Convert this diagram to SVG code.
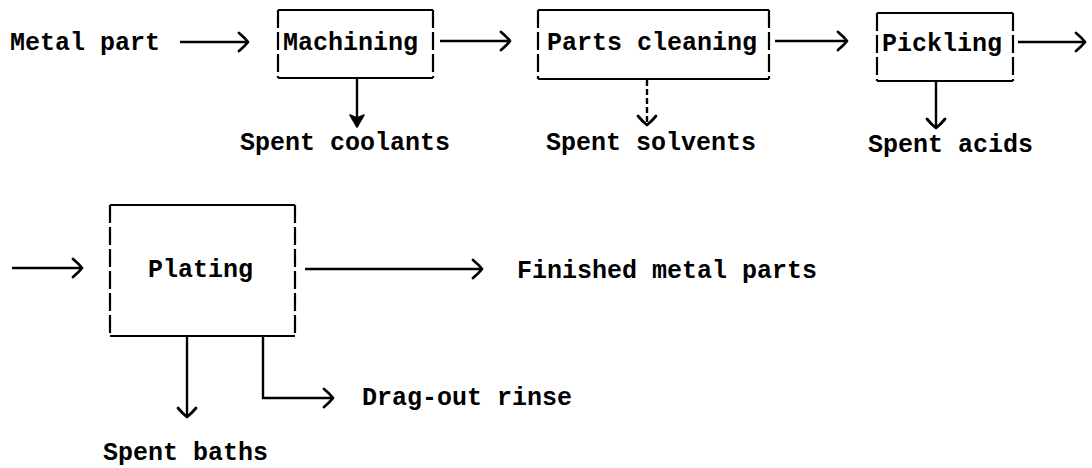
<svg xmlns="http://www.w3.org/2000/svg" width="1092" height="468" viewBox="0 0 1092 468">
  <defs>
    <style>
      .t { font-family: "Liberation Mono", "DejaVu Sans Mono", monospace; font-weight: bold; font-size: 25px; fill: #000; }
      .hz { stroke: #000; stroke-width: 2.2; fill: none; }
      .vt { stroke: #000; stroke-width: 2.2; fill: none; stroke-dasharray: 18 4; }
      .ln { stroke: #000; stroke-width: 2.4; fill: none; }
      .dl { stroke: #000; stroke-width: 2.4; fill: none; stroke-dasharray: 6 3; }
    </style>
    <marker id="open" markerUnits="userSpaceOnUse" markerWidth="16" markerHeight="22" refX="10" refY="9" orient="auto" overflow="visible">
      <path d="M1,0 Q7,5 10,9 Q7,13 1,18" fill="none" stroke="#000" stroke-width="2.8" stroke-linecap="round" stroke-linejoin="round"/>
    </marker>
    <marker id="solid" markerUnits="userSpaceOnUse" markerWidth="16" markerHeight="16" refX="12" refY="7" orient="auto" overflow="visible">
      <path d="M0,0 L12,7 L0,14 L3,7 Z" fill="#000" stroke="#000" stroke-width="1.5" stroke-linejoin="round"/>
    </marker>
  </defs>
  <rect width="1092" height="468" fill="#fff"/>

  <g id="connectors">
    <line class="ln" x1="180" y1="42" x2="248" y2="42" marker-end="url(#open)"/>
    <line class="ln" x1="440" y1="41" x2="510" y2="41" marker-end="url(#open)"/>
    <line class="ln" x1="775" y1="41" x2="847" y2="41" marker-end="url(#open)"/>
    <line class="ln" x1="1018" y1="42" x2="1085" y2="42" marker-end="url(#open)"/>
    <line class="ln" x1="357" y1="79" x2="357" y2="127" marker-end="url(#solid)"/>
    <line class="dl" x1="647" y1="80" x2="647" y2="125" marker-end="url(#open)"/>
    <line class="ln" x1="936" y1="82" x2="936" y2="128" marker-end="url(#open)"/>
    <line class="ln" x1="12" y1="268" x2="82" y2="268" marker-end="url(#open)"/>
    <line class="ln" x1="305" y1="269" x2="482" y2="269" marker-end="url(#open)"/>
    <line class="ln" x1="187" y1="337" x2="187" y2="417" marker-end="url(#open)"/>
    <polyline class="ln" points="263,337 263,398 333,398" marker-end="url(#open)"/>
  </g>

  <g id="metal-part">
    <text class="t" x="10" y="50">Metal part</text>
  </g>

  <g id="machining">
    <path class="hz" d="M278,10 H433 M278,78 H433"/>
    <path class="vt" d="M278,10 V78 M433,10 V78"/>
    <text class="t" x="283" y="50">Machining</text>
  </g>

  <g id="parts-cleaning">
    <path class="hz" d="M538,10 H769 M538,79 H769"/>
    <path class="vt" d="M538,10 V79 M769,10 V79"/>
    <text class="t" x="547" y="50">Parts cleaning</text>
  </g>

  <g id="pickling">
    <path class="hz" d="M877,13 H1013 M877,81 H1013"/>
    <path class="vt" d="M877,13 V81 M1013,13 V81"/>
    <text class="t" x="882" y="51">Pickling</text>
  </g>

  <g id="plating">
    <path class="hz" d="M110,205 H295 M110,336 H295"/>
    <path class="vt" d="M110,205 V336 M295,205 V336"/>
    <text class="t" x="148" y="277">Plating</text>
  </g>

  <g id="spent-coolants"><text class="t" x="240" y="150">Spent coolants</text></g>
  <g id="spent-solvents"><text class="t" x="546" y="150">Spent solvents</text></g>
  <g id="spent-acids"><text class="t" x="868" y="152">Spent acids</text></g>
  <g id="finished"><text class="t" x="517" y="278">Finished metal parts</text></g>
  <g id="drag-out"><text class="t" x="362" y="405">Drag-out rinse</text></g>
  <g id="spent-baths"><text class="t" x="103" y="460">Spent baths</text></g>
</svg>
